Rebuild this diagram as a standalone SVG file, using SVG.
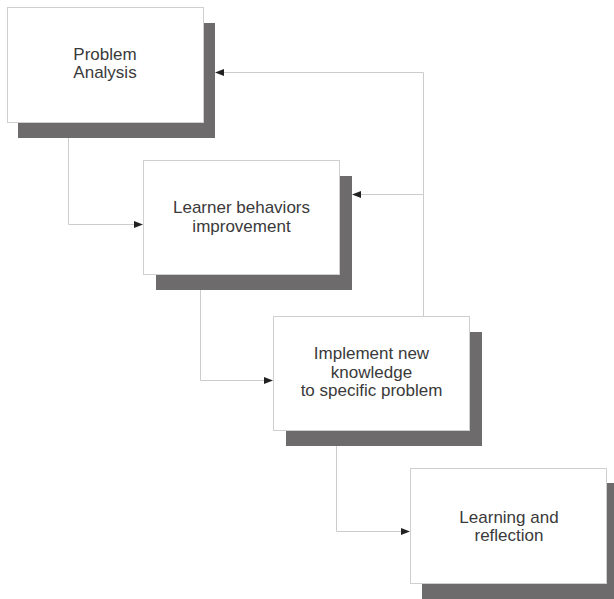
<svg xmlns="http://www.w3.org/2000/svg" width="614" height="599" viewBox="0 0 614 599">
<style>
.box{fill:#fff;stroke:#cfcfcf;stroke-width:1}
.shadow{fill:#6d6b6b}
.lbl{font-family:"Liberation Sans",Arial,sans-serif;font-size:17px;fill:#3a3a3a;text-anchor:middle}
.conn{fill:none;stroke:#cccccc;stroke-width:1}
</style>
<defs>
<marker id="arr" markerWidth="9" markerHeight="7" refX="8" refY="3.5" orient="auto" markerUnits="userSpaceOnUse">
<path d="M0,0 L9,3.5 L0,7 Z" fill="#222"/>
</marker>
</defs>
<rect width="614" height="599" fill="#fff"/>
<g id="connectors">
<path class="conn" d="M68.5,138 V224.5 H142" marker-end="url(#arr)"/>
<path class="conn" d="M200.5,290 V380.5 H272" marker-end="url(#arr)"/>
<path class="conn" d="M336.5,446 V531.5 H409" marker-end="url(#arr)"/>
<path class="conn" d="M423.5,316 V72.5 H216" marker-end="url(#arr)"/>
<path class="conn" d="M423.5,194.5 H353" marker-end="url(#arr)"/>
</g>
<g id="node1">
<rect class="shadow" x="18" y="23" width="197" height="115"/>
<rect class="box" x="7.5" y="7.5" width="196" height="115"/>
<text class="lbl" x="105" y="60">Problem</text>
<text class="lbl" x="105" y="78">Analysis</text>
</g>
<g id="node2">
<rect class="shadow" x="156" y="176" width="196" height="114"/>
<rect class="box" x="143.5" y="160.5" width="196" height="114"/>
<text class="lbl" x="241.5" y="213">Learner behaviors</text>
<text class="lbl" x="241.5" y="231.5">improvement</text>
</g>
<g id="node3">
<rect class="shadow" x="286" y="332" width="196" height="114"/>
<rect class="box" x="273.5" y="316.5" width="196" height="114"/>
<text class="lbl" x="371.5" y="359">Implement new</text>
<text class="lbl" x="371.5" y="377.5">knowledge</text>
<text class="lbl" x="371.5" y="396">to specific problem</text>
</g>
<g id="node4">
<rect class="shadow" x="422" y="483" width="192" height="116"/>
<rect class="box" x="410.5" y="468.5" width="196" height="115"/>
<text class="lbl" x="509" y="523">Learning and</text>
<text class="lbl" x="509" y="541">reflection</text>
</g>
</svg>
